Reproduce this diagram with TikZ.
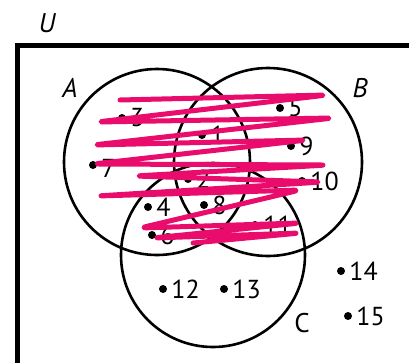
\documentclass[tikz,border=0pt]{standalone}
\usepackage{fontspec}
\setmainfont{PT Sans}
\usetikzlibrary{positioning}
\definecolor{scribble}{RGB}{234,12,108}

\begin{document}
\begin{tikzpicture}[
    x=1pt, y=-1pt,
    font=\fontsize{26}{28}\selectfont,
    setline/.style={line width=2.6pt},
    elem/.style={circle, fill, inner sep=0pt, minimum size=8pt},
    num/.style={inner sep=0pt},
    setname/.style={inner sep=0pt, font=\fontsize{27}{28}\selectfont\itshape},
    ink/.style={scribble, line width=5pt, line cap=round, line join=round, rounded corners=7pt},
    node distance=4pt,
]
\useasboundingbox (0,0) rectangle (409,362);
\clip (0,0) rectangle (409,362);

% --- universe ---
\draw[line width=5pt] (17,420) -- (17,45) -- (430,45);
\node[setname] (U) at (47,23) {U};

% --- the three sets ---
\draw[setline] (157,162) circle (93pt);
\draw[setline] (268,162) circle (94pt);
\draw[setline] (213,255) circle (92pt);
\node[setname] (A) at (70,88) {A};
\node[setname] (B) at (360,88) {B};
\node[setname, font=\fontsize{27}{28}\selectfont] (C) at (302,323) {C};

% --- elements ---
\node[elem] (e1) at (202,135) {};  \node[num, right=of e1] (l1) {1};
\node[elem] (e2) at (188,179) {};  \node[num, right=of e2] (l2) {2};
\node[elem] (e3) at (122,118) {};  \node[num, right=of e3] (l3) {3};
\node[elem] (e4) at (148,207) {};  \node[num, right=of e4] (l4) {4};
\node[elem] (e5) at (280,108) {};  \node[num, right=of e5] (l5) {5};
\node[elem] (e6) at (152,235) {};  \node[num, right=of e6] (l6) {6};
\node[elem] (e7) at (93,165) {};   \node[num, right=of e7, yshift=-3pt] (l7) {7};
\node[elem] (e8) at (204,205) {};  \node[num, right=of e8] (l8) {8};
\node[elem] (e9) at (291,146) {};  \node[num, right=of e9] (l9) {9};
\node[elem] (e10) at (302,181) {}; \node[num, right=of e10] (l10) {10};
\node[elem] (e11) at (255,225) {}; \node[num, right=of e11] (l11) {11};
\node[elem] (e12) at (163,289) {}; \node[num, right=of e12] (l12) {12};
\node[elem] (e13) at (224,289) {}; \node[num, right=of e13] (l13) {13};
\node[elem] (e14) at (341,271) {}; \node[num, right=of e14] (l14) {14};
\node[elem] (e15) at (348,316) {}; \node[num, right=of e15] (l15) {15};

% --- shading of A union B ---
\draw[ink] (120,100) -- (327,95) -- (97,122) -- (333,118) -- (93,145)
    -- (307,140) -- (93,164) -- (327,165) -- (135,176) -- (322,182)
    -- (97,196) -- (300,190) -- (140,228) -- (300,223) -- (153,238)
    -- (300,233) -- (193,243);

\end{tikzpicture}
\end{document}
